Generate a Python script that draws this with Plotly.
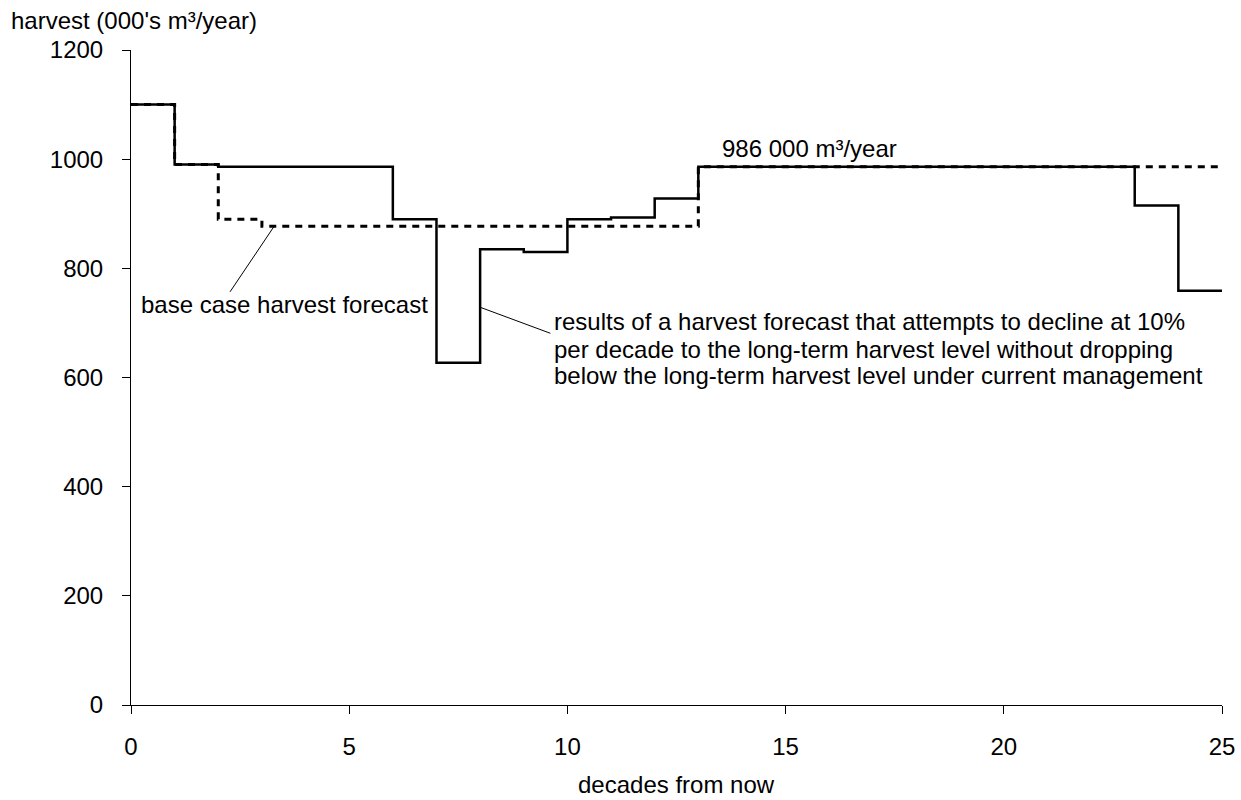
import plotly.graph_objects as go

# Decade boundaries (0..25) and harvest level (000's m³/year) for each decade
decades = list(range(0, 26))
alt_forecast = [1100, 990, 986, 986, 986, 986, 890, 627, 835, 830,
                890, 893, 928, 986, 986, 986, 986, 986, 986, 986,
                986, 986, 986, 915, 759]
base_case = [1100, 990, 890, 877, 877, 877, 877, 877, 877, 877,
             877, 877, 877, 986, 986, 986, 986, 986, 986, 986,
             986, 986, 986, 986, 986]

# repeat last value so the final step reaches decade 25
alt_y = alt_forecast + [alt_forecast[-1]]
base_y = base_case + [base_case[-1]]

x_ticks = [0, 5, 10, 15, 20, 25]
y_ticks = [0, 200, 400, 600, 800, 1000, 1200]

alt_note = [
    "results of a harvest forecast that attempts to decline at 10%",
    "per decade to the long-term harvest level without dropping",
    "below the long-term harvest level under current management",
]
alt_note_y = [702, 652, 603]

FONT = "Arial, 'Liberation Sans', sans-serif"
FS = 24

fig = go.Figure()
fig.add_trace(go.Scatter(
    x=decades, y=base_y, mode="lines", line_shape="hv",
    line=dict(color="black", width=3, dash="7px,6px"),
    name="base case", showlegend=False, hoverinfo="skip"))
fig.add_trace(go.Scatter(
    x=decades, y=alt_y, mode="lines", line_shape="hv",
    line=dict(color="black", width=2.5),
    name="alternative", showlegend=False, hoverinfo="skip"))

# leader lines for the callouts
fig.add_shape(type="line", xref="x", yref="y", x0=3.28, y0=877, x1=2.27, y1=757,
              line=dict(color="black", width=1))
fig.add_shape(type="line", xref="x", yref="y", x0=7.99, y0=729, x1=9.61, y1=681,
              line=dict(color="black", width=1))

fig.add_annotation(x=0.19, y=733, xref="x", yref="y", text="base case harvest forecast",
                   showarrow=False, xanchor="left", yanchor="middle",
                   font=dict(size=FS, color="black", family=FONT))
for line, yy in zip(alt_note, alt_note_y):
    fig.add_annotation(x=9.65, y=yy, xref="x", yref="y", text=line,
                       showarrow=False, xanchor="left", yanchor="middle",
                       font=dict(size=FS, color="black", family=FONT))
fig.add_annotation(x=13.5, y=1020, xref="x", yref="y", text="986 000 m³/year",
                   showarrow=False, xanchor="left", yanchor="middle",
                   font=dict(size=FS, color="black", family=FONT))

# axis titles
fig.add_annotation(x=0, y=1, xref="paper", yref="paper", xshift=-122, yshift=30,
                   text="harvest (000's m³/year)", showarrow=False,
                   xanchor="left", yanchor="middle",
                   font=dict(size=FS, color="black", family=FONT))
fig.add_annotation(x=0.5, y=0, xref="paper", yref="paper", yshift=-79,
                   text="decades from now", showarrow=False,
                   xanchor="center", yanchor="middle",
                   font=dict(size=FS, color="black", family=FONT))

fig.update_layout(
    width=1241, height=800,
    margin=dict(l=131, r=19, t=50, b=95),
    plot_bgcolor="white", paper_bgcolor="white",
    font=dict(family=FONT, size=FS, color="black"),
    xaxis=dict(range=[0, 25], tickvals=x_ticks, showgrid=False, zeroline=False,
               showline=True, linecolor="black", linewidth=1,
               ticks="outside", ticklen=8, tickcolor="black",
               ticklabelstandoff=12, automargin=False),
    yaxis=dict(range=[0, 1200], tickvals=y_ticks, showgrid=False, zeroline=False,
               showline=True, linecolor="black", linewidth=1,
               ticks="outside", ticklen=8, tickcolor="black",
               ticklabelstandoff=14, automargin=False),
)

fig.write_html("out.html")
